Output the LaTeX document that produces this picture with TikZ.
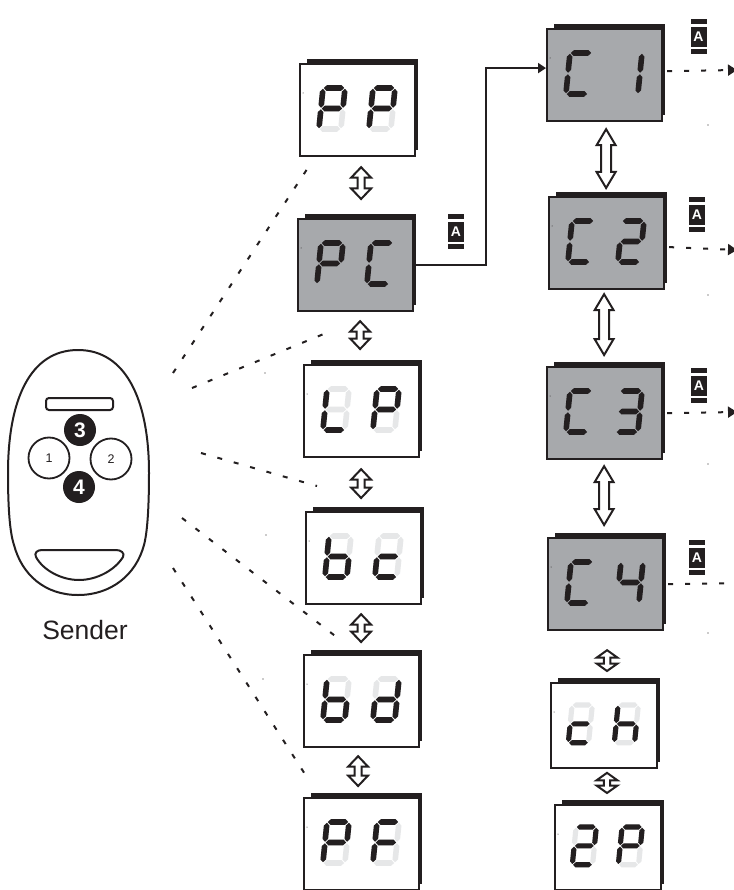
\documentclass[tikz,border=0pt]{standalone}
\usepackage{fontspec}
\setmainfont{Liberation Sans}
\usepackage{tikz}
\usetikzlibrary{arrows.meta,calc}
\definecolor{inkblack}{HTML}{231F20}
\definecolor{screengrey}{HTML}{A7A9AC}
\definecolor{off-plain}{HTML}{E6E7E8}
\definecolor{off-active}{HTML}{A7A9AC}
% one bar with pointed ends: across at y, or along at x
\newcommand{\acrossbar}[1]{(0.8,#1) -- (3.6,#1-2.8) -- (18.4,#1-2.8) -- (21.2,#1) -- (18.4,#1+2.8) -- (3.6,#1+2.8) -- cycle}
\newcommand{\alongbar}[3]{(#1,#2) -- (#1+2.8,#2+2.8) -- (#1+2.8,#3-2.8) -- (#1,#3) -- (#1-2.8,#3-2.8) -- (#1-2.8,#2+2.8) -- cycle}
% segments of one digit, 22 wide and 41 high
\def\sega{\acrossbar{0}}
\def\segb{\alongbar{22}{0.8}{19.7}}
\def\segc{\alongbar{22}{21.3}{40.2}}
\def\segd{\acrossbar{41}}
\def\sege{\alongbar{0}{21.3}{40.2}}
\def\segf{\alongbar{0}{0.8}{19.7}}
\def\segg{\acrossbar{20.5}}
\tikzset{
  plain/.style={draw=inkblack,line width=2.2pt,fill=white,inner sep=0pt,anchor=north west},
  active/.style={plain,fill=screengrey},
  updown/.style n args={3}{draw=inkblack,fill=white,line width=2pt,
    to path={let \p1=(\tikztostart),\p2=(\tikztotarget) in
      -- (\x1+#1pt,\y1-#2pt) -- (\x1+#3pt,\y1-#2pt) -- (\x1+#3pt,\y2+#2pt) -- (\x1+#1pt,\y2+#2pt)
      -- (\x2,\y2)
      -- (\x1-#1pt,\y2+#2pt) -- (\x1-#3pt,\y2+#2pt) -- (\x1-#3pt,\y1-#2pt) -- (\x1-#1pt,\y1-#2pt) -- cycle}},
  bigway/.style={updown={9.5}{16}{5}},
  midway/.style={updown={10}{10.5}{3.5}},
  tinyway/.style={updown={10.5}{7.5}{3.2}},
  flow/.style={draw=inkblack,line width=1.8pt,-{Triangle[length=8pt,width=10pt]}},
  outflow/.style={draw=inkblack,line width=2pt,dash pattern=on 5pt off 12pt,-{Triangle[length=9pt,width=11pt]}},
  hint/.style={draw=inkblack,line width=2pt,dash pattern=on 5pt off 12pt},
  shell/.style={draw=inkblack,line width=2pt,fill=white},
  button/.style={circle,draw=inkblack,line width=1.8pt,fill=white,minimum size=41pt,inner sep=0pt,
    text=inkblack,font=\fontsize{12.5}{14}\selectfont},
  hotbutton/.style={circle,fill=inkblack,minimum size=32pt,inner sep=0pt,
    text=white,font=\fontsize{21}{24}\selectfont\bfseries},
  keybadge/.style={fill=inkblack,minimum width=16pt,minimum height=20pt,inner sep=0pt,
    text=white,font=\fontsize{14}{16}\selectfont\bfseries},
}
% x, y, scale, kind of screen, lit segments
\newcommand{\segdigit}[5]{
  \begin{scope}[shift={(#1,#2)},scale=#3,xslant=0.1]
    \foreach \s in {a,b,c,d,e,f,g} \fill[off-#4] \csname seg\s\endcsname;
    \foreach \s in {#5} \fill[inkblack] \csname seg\s\endcsname;
  \end{scope}
}
% [scale] name, x, y, kind of screen, lit segments left, lit segments right
\newcommand{\display}[7][1]{
  \fill[inkblack] (#3+8,#4-4) rectangle (#3+115*#1+4,#4+87*#1);
  \node[#5,minimum width=#1*115pt,minimum height=#1*92pt] (#2) at (#3,#4) {};
  \fill[inkblack] (#3+4,#4+30) circle (0.5);
  \segdigit{#3+24*#1}{#4+25*#1}{#1}{#5}{#6}
  \segdigit{#3+74*#1}{#4+25*#1}{#1}{#5}{#7}
}
\newcommand{\badge}[3]{
  \fill[inkblack] (#2-8,#3-18) rectangle (#2+8,#3-13);
  \fill[inkblack] (#2-8,#3+12) rectangle (#2+8,#3+17);
  \node[keybadge] (#1) at (#2,#3) {A};
}
\begin{document}
\begin{tikzpicture}[x=1pt,y=-1pt]
\useasboundingbox (0,0) rectangle (733,890);

% left column
\display{pp}{299}{63}{plain}{a,b,e,f,g}{a,b,e,f,g}
\display{pc}{297}{218}{active}{a,b,e,f,g}{a,d,e,f}
\display{lp}{303}{364}{plain}{d,e,f}{a,b,e,f,g}
\display{bc}{305}{511}{plain}{c,d,e,f,g}{d,e,g}
\display{bd}{303}{654}{plain}{c,d,e,f,g}{b,c,d,e,g}
\display{pf}{303}{797}{plain}{a,b,e,f,g}{a,e,f,g}

% right column
\display{c1}{546}{28}{active}{a,d,e,f}{b,c}
\display{c2}{548}{196}{active}{a,d,e,f}{a,b,d,e,g}
\display{c3}{546}{366}{active}{a,d,e,f}{a,b,c,d,g}
\display{c4}{547}{537}{active}{a,d,e,f}{b,c,f,g}
\display[0.92]{ch}{550}{682}{plain}{d,e,g}{c,e,f,g}
\display[0.92]{twop}{554}{804}{plain}{a,b,d,e,g}{a,b,e,f,g}

% up and down arrows
\draw[midway] ([shift={(3.5,10)}]pp.south) to ([shift={(5.5,-19)}]pc.north);
\draw[midway] ([shift={(4.5,9)}]pc.south) to ([shift={(-1.5,-15)}]lp.north);
\draw[midway] ([shift={(-0.5,11)}]lp.south) to ([shift={(-2.5,-13)}]bc.north);
\draw[midway] ([shift={(-2.5,9)}]bc.south) to ([shift={(-0.5,-12)}]bd.north);
\draw[midway] ([shift={(-3.5,8)}]bd.south) to ([shift={(-3.5,-11)}]pf.north);
\draw[bigway] ([shift={(1.5,7)}]c1.south) to ([shift={(-0.5,-8)}]c2.north);
\draw[bigway] ([shift={(-2.5,4)}]c2.south) to ([shift={(-0.5,-11)}]c3.north);
\draw[bigway] ([shift={(-0.5,6)}]c3.south) to ([shift={(-1.5,-12)}]c4.north);
\draw[tinyway] ([shift={(1.5,19)}]c4.south) to ([shift={(3,-11)}]ch.north);
\draw[tinyway] ([shift={(3,4)}]ch.south) to ([shift={(-1,-11)}]twop.north);

% keys and what they lead to
\badge{apc}{456}{232}
\badge{ac1}{698.5}{37}
\badge{ac2}{697}{215}
\badge{ac3}{699}{386}
\badge{ac4}{697}{558}
\draw[flow] (pc.east) -- ++(72,0) |- ([yshift=7pt]c1.west);
\coordinate (out1) at (737,70);
\coordinate (out2) at (737,250);
\coordinate (out3) at (737,412);
\coordinate (out4) at (750,583);
\draw[outflow] ([shift={(4,-4)}]c1.east) -- (out1);
\draw[outflow] ([shift={(4,4)}]c2.east) -- (out2);
\draw[outflow] ([shift={(4,0)}]c3.east) -- (out3);
\draw[outflow] ([shift={(4,0)}]c4.east) -- (out4);
\foreach \px/\py in {708/125,708/295,708/464,708/633,265/373,266/535,263/679}
  \fill[inkblack] (\px,\py) circle (0.6);

% sender
\draw[shell] (78,350) .. controls (30,350) and (8,400) .. (8,473)
  .. controls (8,500) and (9,530) .. (14,545)
  .. controls (22,575) and (45,595) .. (78,595)
  .. controls (111,595) and (136,575) .. (144,545)
  .. controls (148,530) and (149,500) .. (149,473)
  .. controls (149,400) and (126,350) .. (78,350) -- cycle;
\draw[shell,rounded corners=3pt] (46,398) rectangle (113,410);
\draw[shell] (42,550) -- (116,550) .. controls (121,550) and (125,553) .. (123,557)
  .. controls (115,570) and (97,580) .. (79,580)
  .. controls (61,580) and (43,570) .. (36,557)
  .. controls (34,553) and (37,550) .. (42,550) -- cycle;
\node[button] (key1) at (49,458) {1};
\node[button] (key2) at (111,459) {2};
\node[hotbutton] (key3) at (80,430) {3};
\node[hotbutton] (key4) at (79,487) {4};
\node[text=inkblack,font=\fontsize{26.5}{30}\selectfont] (sender) at (85,630) {Sender};

% dotted lines from the sender
\coordinate (from1) at (173,373);
\coordinate (from2) at (192,388);
\coordinate (from3) at (201,453);
\coordinate (from4) at (182,518);
\coordinate (from5) at (173,568);
\draw[hint] (from1) -- ([shift={(12,6)}]pp.south west);
\draw[hint] (from2) -- ([shift={(36,18)}]pc.south west);
\draw[hint] (from3) -- ([shift={(12,-25)}]bc.north west);
\draw[hint] (from4) -- ([shift={(40,-12)}]bd.north west);
\draw[hint] (from5) -- ([shift={(7,-15)}]pf.north west);
\end{tikzpicture}
\end{document}
